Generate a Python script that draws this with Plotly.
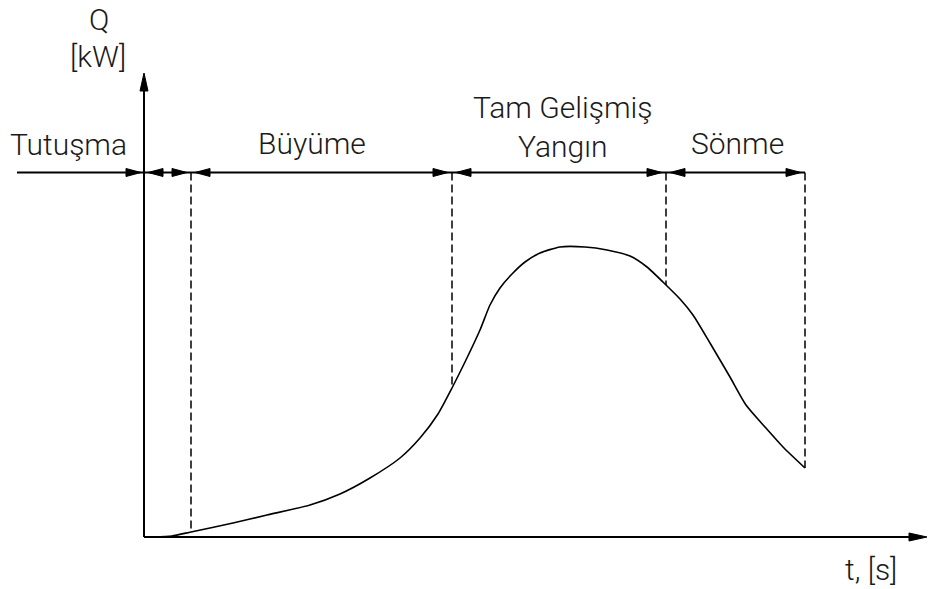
import numpy as np
import plotly.graph_objects as go

# ---- data (t, Q in drawing units) ----
curve_t = [9, 28, 47, 89, 123, 166, 196, 226, 256, 276, 294, 308, 321, 336, 346, 356, 368,
           381, 396, 416, 441, 463, 486, 503, 522, 536, 549, 566, 586, 602, 621, 639, 661]
curve_q = [0, 1, 5, 14, 22, 32, 43, 59, 79, 99, 123, 149, 175, 207, 232, 249, 263,
           275, 284, 290, 290, 287, 281, 270, 252, 238, 222, 194, 160, 132, 110, 90, 69]

phase_bounds = [0, 47, 308, 522, 661]          # ends of phases on t axis
phase_line_q = 364.5                            # level of the phase arrow line
phase_line_start = -127
axis_t_end = 783
axis_q_end = 464

labels = ["Tutuşma", "Büyüme", "Tam Gelişmiş<br>Yangın", "Sönme"]
label_t = [-76, 168, 419, 593]
label_q = [393, 394, 410, 394]

FONT = dict(family="Roboto", size=30, color="#1a1a1a", weight=300)

fig = go.Figure()

# curve
fig.add_trace(go.Scatter(x=curve_t, y=curve_q, mode="lines",
                         line=dict(color="black", width=1.6, shape="spline", smoothing=0.6),
                         hoverinfo="skip"))

# dashed boundaries
for b in phase_bounds[1:]:
    qb = float(np.interp(b, curve_t, curve_q))
    fig.add_trace(go.Scatter(x=[b, b], y=[phase_line_q, qb], mode="lines",
                             line=dict(color="black", width=1.5, dash="8px,4px"),
                             hoverinfo="skip"))

# axes lines
fig.add_trace(go.Scatter(x=[0, 0], y=[0, axis_q_end - 16], mode="lines",
                         line=dict(color="black", width=2), hoverinfo="skip"))
fig.add_trace(go.Scatter(x=[0, axis_t_end - 12], y=[0, 0], mode="lines",
                         line=dict(color="black", width=2), hoverinfo="skip"))
# phase line
fig.add_trace(go.Scatter(x=[phase_line_start, phase_bounds[-1]], y=[phase_line_q, phase_line_q],
                         mode="lines", line=dict(color="black", width=2), hoverinfo="skip"))

# arrowheads (filled polygons)
ax, ay = [], []
def add_head(tip_x, tip_y, dx, dy, L, H):
    bx, by = tip_x - dx * L, tip_y - dy * L
    px, py = -dy * H, dx * H
    ax.extend([tip_x, bx + px, bx - px, tip_x, None])
    ay.extend([tip_y, by + py, by - py, tip_y, None])

G = 4
add_head(phase_bounds[0] - G + 1, phase_line_q, 1, 0, 15, 4)
for i in range(1, len(phase_bounds)):
    add_head(phase_bounds[i - 1] + G, phase_line_q, -1, 0, 15, 4)
    add_head(phase_bounds[i] - G, phase_line_q, 1, 0, 15, 4)
add_head(0, axis_q_end, 0, 1, 18, 4)
add_head(axis_t_end, 0, 1, 0, 18, 4)
fig.add_trace(go.Scatter(x=ax, y=ay, mode="lines", fill="toself", fillcolor="black",
                         line=dict(color="black", width=1), hoverinfo="skip"))

# labels
for txt, lx, ly in zip(labels, label_t, label_q):
    fig.add_annotation(x=lx, y=ly, text=txt, showarrow=False, font=FONT,
                       xanchor="center", yanchor="middle", align="center")
fig.add_annotation(x=-45, y=518, text="Q", showarrow=False, font=FONT,
                   xanchor="center", yanchor="middle")
fig.add_annotation(x=-46, y=481, text="[kW]", showarrow=False, font=FONT,
                   xanchor="center", yanchor="middle")
fig.add_annotation(x=727, y=-32, text="t, [s]", showarrow=False, font=FONT,
                   xanchor="center", yanchor="middle")

fig.update_layout(width=929, height=589, margin=dict(l=0, r=0, t=0, b=0),
                  paper_bgcolor="white", plot_bgcolor="white", showlegend=False,
                  xaxis=dict(range=[-144, 785], visible=False, fixedrange=True),
                  yaxis=dict(range=[-52, 537], visible=False, fixedrange=True))
fig.write_html("out.html", config={"displayModeBar": False},
               post_script="document.body.style.margin='0';document.body.style.overflow='hidden';")
